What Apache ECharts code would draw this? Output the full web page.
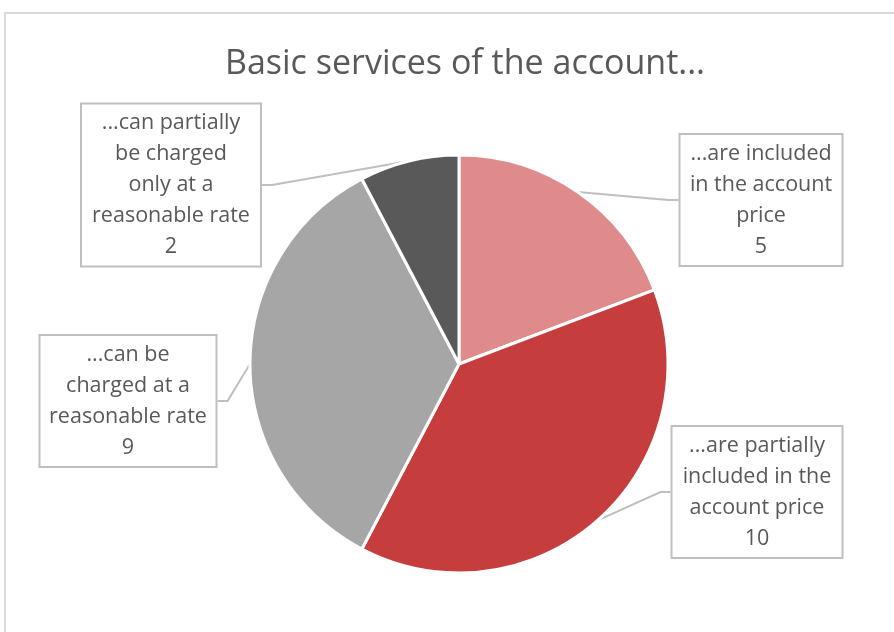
<!DOCTYPE html>
<html>
<head>
<meta charset="utf-8">
<script src="https://cdn.jsdelivr.net/npm/echarts@6/dist/echarts.min.js"></script>
<style>html,body{margin:0;padding:0;background:#fff}#c{width:894px;height:632px}</style>
</head>
<body>
<div id="c"></div>
<script>
const titleText = 'Basic services of the account...';
const categories = [
  '...are included\nin the account\nprice',
  '...are partially\nincluded in the\naccount price',
  '...can be\ncharged at a\nreasonable rate',
  '...can partially\nbe charged\nonly at a\nreasonable rate'
];
const values = [5, 10, 9, 2];
const colors = ['#DF8B8B', '#C63D3E', '#A6A6A6', '#595959'];
const labelPos = [[761, 200], [757, 492], [128, 401], [171, 185]];
const labelWidths = [151, 159, 165, 168];

const chart = echarts.init(document.getElementById('c'));
const fontFamily = '"Open Sans", "Noto Sans", sans-serif';
chart.setOption({
  animation: false,
  backgroundColor: '#fff',
  title: {
    text: titleText, left: 460, top: 42, textAlign: 'center',
    textStyle: { fontFamily, fontSize: 34, fontWeight: 'normal', color: '#595959' }
  },
  graphic: [{
    type: 'rect', shape: { x: 5, y: 13, width: 1000, height: 700 },
    style: { fill: 'none', stroke: '#d9d9d9', lineWidth: 2 }, silent: true, z: -1
  }],
  series: [{
    type: 'pie',
    center: [459, 364],
    radius: [0, 209],
    startAngle: 90,
    clockwise: true,
    itemStyle: { borderColor: '#fff', borderWidth: 3 },
    data: values.map((v, i) => ({
      value: v, name: categories[i],
      itemStyle: { color: colors[i] },
      label: { width: labelWidths[i] }
    })),
    label: {
      show: true,
      formatter: '{b}\n{c}',
      fontFamily, fontSize: 21.5, lineHeight: 31, color: '#595959',
      align: 'center',
      backgroundColor: '#fff',
      borderColor: '#BFBFBF', borderWidth: 2,
      padding: [3, 5, 3, 5]
    },
    labelLine: { show: true, lineStyle: { color: '#BFBFBF', width: 2 }, length: 10, length2: 10 },
    labelLayout: function (params) {
      const p = labelPos[params.dataIndex];
      return { x: p[0], y: p[1], align: 'center', verticalAlign: 'middle' };
    }
  }]
});
</script>
</body>
</html>
